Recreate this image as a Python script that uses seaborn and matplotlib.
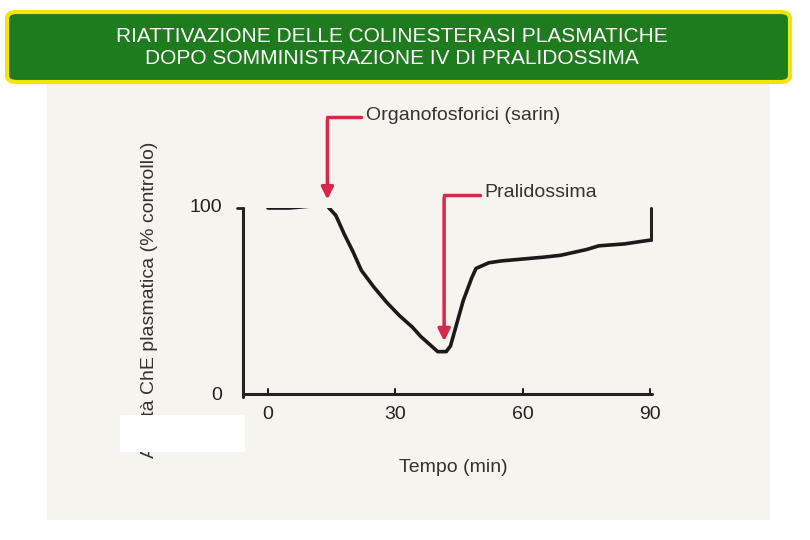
import matplotlib
matplotlib.use("Agg")
import matplotlib.pyplot as plt
import seaborn as sns
import pandas as pd
from matplotlib.patches import Rectangle, FancyBboxPatch

time_min = [0, 5, 10, 14, 16, 18, 20, 22, 25, 28, 31, 34, 36, 38, 40, 42, 43, 44, 46, 48, 49, 52, 55, 60, 65, 69, 75, 78, 84, 90]
activity = [100, 100, 101, 101, 96, 86, 77, 67, 58, 50, 43, 37, 32, 28, 24, 24, 27, 35, 51, 63, 68, 71, 72, 73, 74, 75, 78, 80, 81, 83]
x_ticks = [0, 30, 60, 90]
y_ticks = [0, 100]

sns.set_theme(style="white")
plt.rcParams['font.family'] = ['Liberation Sans', 'DejaVu Sans']
df = pd.DataFrame({"t": time_min, "a": activity})

fig = plt.figure(figsize=(8.1, 5.4), dpi=100)
fig.patches.append(Rectangle((47/810, 20/540), (770-47)/810, (455)/540, transform=fig.transFigure,
                             facecolor="#f6f4ee", edgecolor="none", zorder=-5))
ax = fig.add_axes([243/810, 1-397/540, (652-243)/810, (397-208)/540])
ax.set_zorder(2)
ax.set_facecolor("none")
sns.lineplot(data=df, x="t", y="a", ax=ax, color="#1a1a1a", linewidth=2.6)
x0 = -25/4.244
ax.set_xlim(x0, x0 + (652-243)/4.244)
ax.set_ylim(0, 100)
for s in ax.spines.values():
    s.set_visible(False)
ax.plot([x0, x0], [0, 100], color="#222", lw=2.2, clip_on=False)
ax.plot([x0, 90.5], [1.5, 1.5], color="#222", lw=2.2, clip_on=False)
ax.plot([90.3, 90.3], [100, 83], color="#222", lw=2.2, clip_on=False)
ax.plot([x0-1.5, x0], [100, 100], color="#222", lw=2, clip_on=False)
ax.set_xticks([]); ax.set_yticks([])
ax.set_xlabel(""); ax.set_ylabel("")
for t in x_ticks:
    ax.text(t, -9, str(t), ha="center", va="center", fontsize=14, color="#222")
    ax.plot([t, t], [1.5, 4], color="#222", lw=1.5, clip_on=False)
ax.text(x0-5, 100, "100", ha="right", va="center", fontsize=14, color="#222")
ax.text(x0-5, 1, "0", ha="right", va="center", fontsize=14, color="#222")

red = "#d8284a"
ax.annotate("", xy=(14, 103), xytext=(14, 148), annotation_clip=False,
            arrowprops=dict(arrowstyle="-|>", color=red, lw=2.5, mutation_scale=18))
ax.plot([14, 22], [148, 148], color=red, lw=2.5, clip_on=False)
ax.text(23, 149, "Organofosforici (sarin)", fontsize=14, color="#333", va="center")
ax.annotate("", xy=(41.5, 28), xytext=(41.5, 107), annotation_clip=False,
            arrowprops=dict(arrowstyle="-|>", color=red, lw=2.5, mutation_scale=18))
ax.plot([41.5, 50], [107, 107], color=red, lw=2.5, clip_on=False)
ax.text(51, 108, "Pralidossima", fontsize=14, color="#333", va="center")

fig.text(150/810, 1-300/540, "Attività ChE plasmatica (% controllo)", rotation=90,
         ha="center", va="center", fontsize=14, color="#333", zorder=3)
fig.patches.append(Rectangle((120/810, 1-452/540), 125/810, 37/540, transform=fig.transFigure,
                             facecolor="white", edgecolor="none", zorder=5))
fig.text(453/810, 1-467/540, "Tempo (min)", ha="center", va="center", fontsize=14, color="#333")

fig.patches.append(FancyBboxPatch((7/810, 1-82/540), 783/810, 70/540, transform=fig.transFigure,
                                  boxstyle="round,pad=0,rounding_size=0.012",
                                  facecolor="#1e7b1e", edgecolor="#f2e600", linewidth=3, zorder=6))
fig.text(392/810, 1-48/540, "RIATTIVAZIONE DELLE COLINESTERASI PLASMATICHE\nDOPO SOMMINISTRAZIONE IV DI PRALIDOSSIMA",
         ha="center", va="center", fontsize=15, color="white", zorder=7, linespacing=1.2)
fig.savefig("out.png", dpi=100)
